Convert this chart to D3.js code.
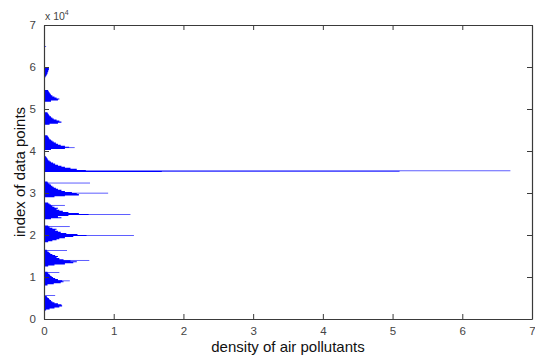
<!DOCTYPE html>
<html>
<head>
<meta charset="utf-8">
<script src="https://cdn.jsdelivr.net/npm/d3@7"></script>
<style>
  html, body { margin: 0; padding: 0; background: #fff; }
  svg { display: block; font-family: "Liberation Sans", Arial, Helvetica, sans-serif; }
</style>
</head>
<body>
<svg id="chart" width="535" height="356"></svg>
<script>
// ---- data (index of data points, density of air pollutants) ----
const xTicks = [0, 1, 2, 3, 4, 5, 6, 7];
const yTicks = [0, 1, 2, 3, 4, 5, 6, 7];          // x 10^4
const binSize = 250;                                // indices per bin
// start index of each cluster of bins
const clusterStarts = [2000, 8000, 12500, 18250, 23750, 29000, 35000, 40250, 46250, 51750, 57500];
// densities of consecutive bins in each cluster (from low to high index)
const clusterDensities = [
  [0.03, 0.08, 0.15, 0.22, 0.26, 0.25, 0.20, 0.15, 0.12, 0.10, 0.08, 0.07, 0.05, 0.04],
  [0.05, 0.14, 0.24, 0.28, 0.26, 0.20, 0.16, 0.13, 0.11, 0.09, 0.08, 0.06, 0.05],
  [0.06, 0.15, 0.30, 0.42, 0.47, 0.38, 0.28, 0.22, 0.18, 0.20, 0.16, 0.12, 0.09, 0.07, 0.05, 0.04],
  [0.06, 0.12, 0.18, 0.22, 0.30, 0.42, 0.61, 0.48, 0.32, 0.24, 0.20, 0.16, 0.18, 0.12, 0.08, 0.06],
  [0.10, 0.25, 0.20, 0.35, 0.64, 0.50, 0.35, 0.27, 0.22, 0.18, 0.20, 0.15, 0.12, 0.10, 0.08, 0.06],
  [0.15, 0.30, 0.50, 0.47, 0.40, 0.30, 0.25, 0.20, 0.17, 0.14, 0.12, 0.10, 0.08, 0.06, 0.05],
  [1.69, 0.60, 0.47, 0.38, 0.30, 0.25, 0.20, 0.16, 0.13, 0.10, 0.08, 0.06, 0.05, 0.04, 0.03],
  [0.10, 0.30, 0.36, 0.30, 0.24, 0.20, 0.17, 0.14, 0.12, 0.10, 0.08, 0.07, 0.06, 0.05],
  [0.08, 0.20, 0.25, 0.22, 0.18, 0.14, 0.12, 0.10, 0.08, 0.07, 0.06, 0.05],
  [0.10, 0.20, 0.22, 0.18, 0.15, 0.12, 0.10, 0.09, 0.08, 0.07, 0.06],
  [0.02, 0.03, 0.04, 0.05, 0.05, 0.06, 0.06, 0.07, 0.07, 0.07]
];
// isolated single-point spikes
const spikeIndex   = [5500, 9000, 11000, 13900, 16250, 19800, 21900, 24800, 27000, 29400, 29900, 32300, 35100, 35200, 40700, 64800];
const spikeDensity = [0.16, 0.37, 0.22,  0.65,  0.33,  1.29,  0.37,  1.24,  0.30,  0.50,  0.92,  0.66,  5.10,  6.69,  0.44,  0.03];
const spikeWidth = 150; // indices

// ---- layout ----
const svg = d3.select("#chart");
const mLeft = 44, mRight = 532, mTop = 25, mBottom = 319;
const x = d3.scaleLinear().domain([0, 7]).range([mLeft, mRight]);
const y = d3.scaleLinear().domain([0, 70000]).range([mBottom, mTop]);
const axisColor = "#3a3a3a";
const blue = "#0000ff";

// clusters as step areas
const area = d3.area()
  .y(d => y(d.idx))
  .x0(x(0))
  .x1(d => x(d.v))
  .curve(d3.curveStepBefore);

clusterStarts.forEach((s, ci) => {
  const vals = clusterDensities[ci];
  const pts = vals.map((v, i) => ({ idx: s + i * binSize, v }));
  pts.push({ idx: s + vals.length * binSize, v: 0 });
  svg.append("path").attr("d", area(pts)).attr("fill", blue).attr("stroke", "none");
});

// spikes
svg.append("g").selectAll("rect").data(spikeIndex).join("rect")
  .attr("x", x(0))
  .attr("y", d => y(d + spikeWidth))
  .attr("width", (d, i) => x(spikeDensity[i]) - x(0))
  .attr("height", d => y(d) - y(d + spikeWidth))
  .attr("fill", blue);

// ---- axes (MATLAB style box, ticks inside) ----
const tickLen = 5;
const xAxisB = d3.axisBottom(x).tickValues(xTicks).tickSizeInner(-tickLen).tickSizeOuter(0).tickPadding(8).tickFormat(d3.format("d"));
const xAxisT = d3.axisTop(x).tickValues(xTicks).tickSizeInner(-tickLen).tickSizeOuter(0).tickFormat("");
const yAxisL = d3.axisLeft(y).tickValues(yTicks.map(t => t * 10000)).tickSizeInner(-tickLen).tickSizeOuter(0).tickPadding(8).tickFormat(d => d / 10000);
const yAxisR = d3.axisRight(y).tickValues(yTicks.map(t => t * 10000)).tickSizeInner(-tickLen).tickSizeOuter(0).tickFormat("");

function style(g) {
  g.selectAll(".domain").attr("stroke", axisColor).attr("stroke-width", 1.2);
  g.selectAll(".tick line").attr("stroke", axisColor).attr("stroke-width", 1);
  g.selectAll(".tick text").attr("fill", "#444").attr("font-size", 11.5).attr("font-family", "Liberation Sans, Arial, sans-serif");
}
svg.append("g").attr("transform", `translate(0,${mBottom})`).call(xAxisB).call(style);
svg.append("g").attr("transform", `translate(0,${mTop})`).call(xAxisT).call(style);
svg.append("g").attr("transform", `translate(${mLeft},0)`).call(yAxisL).call(style);
svg.append("g").attr("transform", `translate(${mRight},0)`).call(yAxisR).call(style);

// exponent label
const expo = svg.append("text").attr("x", 45).attr("y", 20).attr("font-size", 10.5).attr("fill", "#444");
expo.append("tspan").text("x 10");
expo.append("tspan").attr("dy", -5).attr("font-size", 7).text("4");

// axis titles
svg.append("text")
  .attr("x", (mLeft + mRight) / 2).attr("y", 352)
  .attr("text-anchor", "middle").attr("font-size", 15).attr("fill", "#111")
  .text("density of air pollutants");
svg.append("text")
  .attr("transform", `translate(25,${(mTop + mBottom) / 2}) rotate(-90)`)
  .attr("text-anchor", "middle").attr("font-size", 15).attr("fill", "#111")
  .text("index of data points");
</script>
</body>
</html>
